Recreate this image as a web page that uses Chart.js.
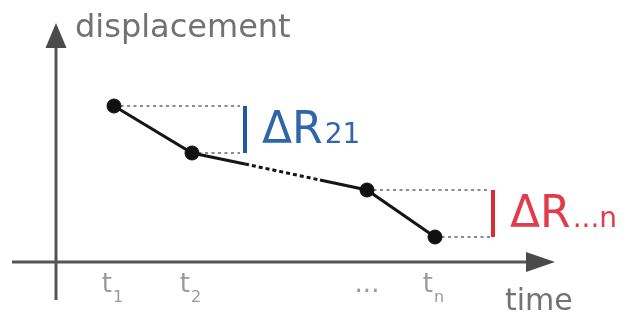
<!DOCTYPE html>
<html>
<head>
<meta charset="utf-8">
<script src="https://cdn.jsdelivr.net/npm/chart.js@4.4.0/dist/chart.umd.min.js"></script>
<style>
  html, body { margin: 0; padding: 0; background: #fff; }
  #wrap { width: 640px; height: 312px; }
</style>
</head>
<body>
<div id="wrap"><canvas id="chart"></canvas></div>
<script>
// sample points (time, displacement)
const tickLabels = ['t1', 't2', '...', 'tn'];
const times = [5.8, 13.6, 31.1, 37.9];
const displacement = [15.6, 10.9, 7.2, 2.5];

// where the line between t2 and the next point turns dotted and back
const breakTimes = [18.9, 26.4];
const breakDisp = [9.8, 8.2];

// delta markers: which two points they span, and where the bar sits
const deltaLabels = ['ΔR', 'ΔR'];
const deltaSubs = ['21', '...n'];
const deltaFrom = [0, 2];
const deltaTo = [1, 3];
const deltaBarTimes = [18.9, 43.7];
const deltaGuideEnds = [18.4, 43.4];

const deltaColors = ['#1f5a9e', '#dc2a36'];
const deltaTextColors = ['#2f66aa', '#e23c4b'];

// main line: p1, p2, break, break, p3, p4
var linePts = [];
var lineRadius = [];
linePts.push({x: times[0], y: displacement[0]}); lineRadius.push(7);
linePts.push({x: times[1], y: displacement[1]}); lineRadius.push(7);
for (var i = 0; i < breakTimes.length; i++) {
    linePts.push({x: breakTimes[i], y: breakDisp[i]}); lineRadius.push(0);
}
linePts.push({x: times[2], y: displacement[2]}); lineRadius.push(7);
linePts.push({x: times[3], y: displacement[3]}); lineRadius.push(7);

var datasets = [];

// main line first so it sits on top
datasets.push({
    data: linePts,
    borderColor: '#151515',
    borderWidth: 3,
    pointRadius: lineRadius,
    pointBackgroundColor: '#111',
    pointBorderColor: '#111',
    pointBorderWidth: 1,
    order: -1,
    segment: {
        borderDash: function (c) { return c.p0DataIndex === 2 ? [4, 3] : undefined; }
    }
});

// dotted guides and coloured bars
for (var i = 0; i < deltaFrom.length; i++) {
    var a = deltaFrom[i], b = deltaTo[i];
    [a, b].forEach(function (k) {
        datasets.push({
            data: [{x: times[k], y: displacement[k]}, {x: deltaGuideEnds[i], y: displacement[k]}],
            borderColor: '#8a8a8a',
            borderWidth: 2,
            borderDash: [3, 3.5],
            pointRadius: 0
        });
    });
    datasets.push({
        data: [{x: deltaBarTimes[i], y: displacement[a]}, {x: deltaBarTimes[i], y: displacement[b]}],
        borderColor: deltaColors[i],
        borderWidth: 4,
        pointRadius: 0
    });
}

const FONT = '"DejaVu Sans", sans-serif';

const axisPlugin = {
    id: 'axisArrows',
    beforeDatasetsDraw(chart) {
        const ctx = chart.ctx;
        const xs = chart.scales.x, ys = chart.scales.y;
        const x0 = xs.getPixelForValue(0), y0 = ys.getPixelForValue(0);
        ctx.save();
        ctx.strokeStyle = '#555';
        ctx.fillStyle = '#4a4a4a';
        ctx.lineWidth = 3;
        // y axis
        ctx.beginPath();
        ctx.moveTo(x0, ys.getPixelForValue(-3.8));
        ctx.lineTo(x0, ys.getPixelForValue(21.6));
        ctx.stroke();
        var tip = ys.getPixelForValue(23.9), base = ys.getPixelForValue(21.4);
        ctx.beginPath();
        ctx.moveTo(x0, tip); ctx.lineTo(x0 - 10.5, base); ctx.lineTo(x0 + 10.5, base);
        ctx.closePath(); ctx.fill();
        // x axis
        ctx.beginPath();
        ctx.moveTo(xs.getPixelForValue(-4.4), y0);
        ctx.lineTo(xs.getPixelForValue(47.2), y0);
        ctx.stroke();
        tip = xs.getPixelForValue(49.9); base = xs.getPixelForValue(47.0);
        ctx.beginPath();
        ctx.moveTo(tip, y0); ctx.lineTo(base, y0 - 10); ctx.lineTo(base, y0 + 10);
        ctx.closePath(); ctx.fill();
        ctx.restore();
    },
    afterDatasetsDraw(chart) {
        const ctx = chart.ctx;
        const xs = chart.scales.x, ys = chart.scales.y;
        ctx.save();
        ctx.textBaseline = 'alphabetic';
        ctx.textAlign = 'left';

        // axis titles
        ctx.fillStyle = '#727272';
        ctx.font = '32px ' + FONT;
        ctx.fillText('displacement', xs.getPixelForValue(1.9), ys.getPixelForValue(22.5));
        ctx.font = '30px ' + FONT;
        ctx.fillText('time', xs.getPixelForValue(44.9), ys.getPixelForValue(-4.8));

        // tick labels with subscripts
        var tickBase = ys.getPixelForValue(-3.0);
        ctx.fillStyle = '#9a9a9a';
        for (var i = 0; i < tickLabels.length; i++) {
            var px = xs.getPixelForValue(times[i]);
            var lab = tickLabels[i];
            if (lab.charAt(0) === 't') {
                ctx.font = '26px ' + FONT;
                var w1 = ctx.measureText('t').width;
                ctx.font = '16px ' + FONT;
                var w2 = ctx.measureText(lab.slice(1)).width;
                var start = px - (w1 + w2) / 2 - 2;
                ctx.font = '26px ' + FONT;
                ctx.fillText('t', start, tickBase);
                ctx.font = '16px ' + FONT;
                ctx.fillText(lab.slice(1), start + w1 + 1, tickBase + 10);
            } else {
                ctx.font = '26px ' + FONT;
                var w = ctx.measureText(lab).width;
                ctx.fillText(lab, px - w / 2, tickBase);
            }
        }

        // delta labels
        for (var i = 0; i < deltaLabels.length; i++) {
            var bx = xs.getPixelForValue(deltaBarTimes[i]) + 17;
            var mid = (ys.getPixelForValue(displacement[deltaFrom[i]]) + ys.getPixelForValue(displacement[deltaTo[i]])) / 2;
            var bl = mid + 13;
            ctx.fillStyle = deltaTextColors[i];
            ctx.font = '44px ' + FONT;
            ctx.fillText(deltaLabels[i], bx, bl);
            var w = ctx.measureText(deltaLabels[i]).width;
            ctx.font = '28px ' + FONT;
            ctx.fillText(deltaSubs[i], bx + w + 2, bl);
        }
        ctx.restore();
    }
};

new Chart(document.getElementById('chart').getContext('2d'), {
    type: 'line',
    data: { datasets: datasets },
    options: {
        responsive: true,
        maintainAspectRatio: false,
        animation: false,
        layout: { padding: 0, autoPadding: false },
        plugins: { legend: { display: false }, tooltip: { enabled: false } },
        scales: {
            x: { type: 'linear', display: false, min: -5.6, max: 58.4 },
            y: { type: 'linear', display: false, min: -5.0, max: 26.2 }
        }
    },
    plugins: [axisPlugin]
});
</script>
</body>
</html>
